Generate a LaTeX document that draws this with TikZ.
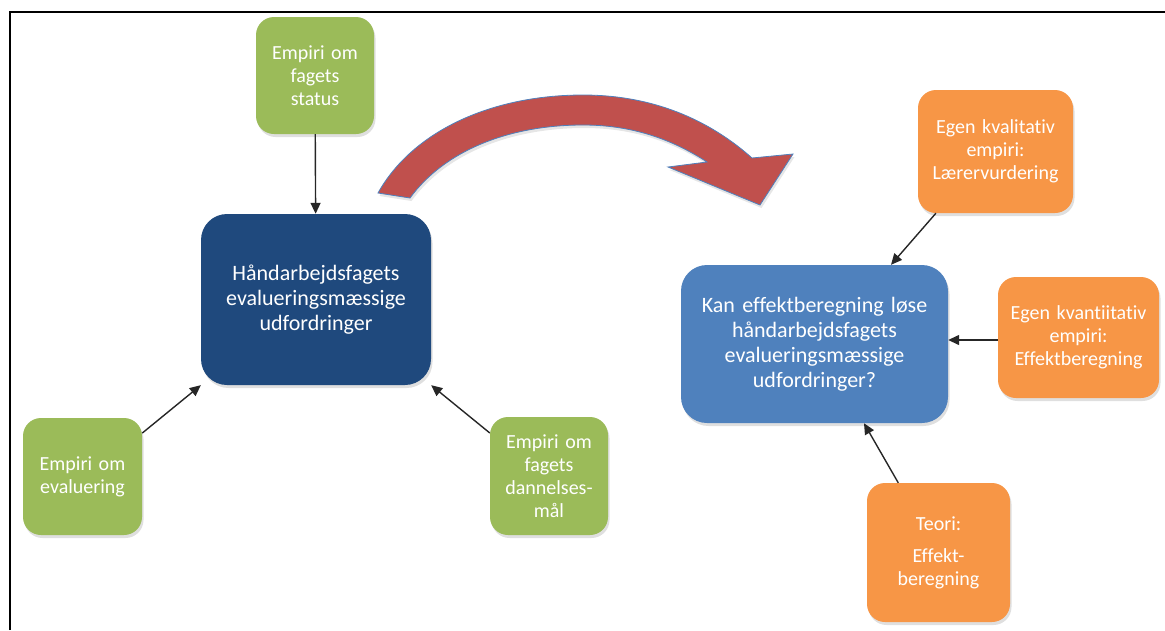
\documentclass[tikz,border=0pt]{standalone}
\usepackage{fontspec}
\setmainfont{Carlito}[Ligatures={NoCommon}]
\usetikzlibrary{shadows,arrows.meta,calc}
\definecolor{cgreen}{HTML}{9BBB59}
\definecolor{cdark}{HTML}{1F497D}
\definecolor{cblue}{HTML}{4F81BD}
\definecolor{corange}{HTML}{F79646}
\definecolor{cred}{HTML}{C0504D}
\begin{document}
\begin{tikzpicture}[x=1pt,y=-1pt,
  box/.style={rectangle, rounded corners=18pt, align=center, inner sep=0pt, text=white,
    drop shadow={shadow xshift=1.5pt, shadow yshift=-3pt, opacity=0.25}},
  smallbox/.style={box, font=\fontsize{20}{23}\selectfont},
  bigbox/.style={box, font=\fontsize{22}{25}\selectfont, rounded corners=26pt},
  arr/.style={-{Triangle[length=11pt,width=10pt]}, line width=1.4pt, black!85}]
\useasboundingbox (0,0) rectangle (1165,630);
\draw[line width=2pt] (10,630) -- (10,12) -- (1165,12);

% left group
\node[smallbox, fill=cgreen, minimum width=118pt, minimum height=117pt, text width=110pt] (gtop) at (315,75.5) {Empiri om\\fagets\\status};
\node[bigbox, fill=cdark, minimum width=230pt, minimum height=171pt, text width=215pt] (main) at (316,299.5) {Håndarbejdsfagets\\evalueringsmæssige\\udfordringer};
\node[smallbox, fill=cgreen, minimum width=119pt, minimum height=117pt, text width=110pt] (gleft) at (82.5,476.5) {Empiri om\\evaluering};
\node[smallbox, fill=cgreen, minimum width=118pt, minimum height=118pt, text width=110pt] (gright) at (549,476) {Empiri om\\fagets\\dannelses-\\mål};

% right group
\node[smallbox, fill=corange, minimum width=155pt, minimum height=123pt, text width=150pt] (kval) at (995.5,151.5) {Egen kvalitativ\\empiri:\\Lærervurdering};
\node[smallbox, fill=corange, minimum width=161pt, minimum height=121pt, text width=156pt] (kvan) at (1078.5,337.5) {Egen kvantiitativ\\empiri:\\Effektberegning};
\node[bigbox, fill=cblue, minimum width=267pt, minimum height=158pt, text width=255pt] (q) at (814.5,344) {Kan effektberegning løse\\håndarbejdsfagets\\evalueringsmæssige\\udfordringer?};
\node[smallbox, fill=corange, minimum width=143pt, minimum height=139pt, text width=135pt] (teori) at (938.5,552.5) {Teori:\\[9pt]Effekt-\\beregning};

% connectors
\draw[arr] (gtop) -- (main);
\draw[arr] (gleft.36.8) -- (main.south west);
\draw[arr] (gright.144.2) -- (main.south east);
\draw[arr] (kval.226.4) -- (q.46.3);
\draw[arr] ($(kvan.west)+(0,2.5)$) coordinate (kw) -- (kw -| q.east);
\draw[arr] (teori.120.2) -- (q.-58.4);

% big curved arrow
\draw[fill=cred, draw=cblue, line width=0.8pt,
  drop shadow={shadow xshift=1.5pt, shadow yshift=-3pt, opacity=0.2}]
  (378,193) .. controls (412,132) and (490,95) .. (583,95)
  .. controls (660,95) and (715,125) .. (752,158)
  -- (793,154) -- (760,205) -- (668,167) -- (707,162)
  .. controls (670,138) and (630,125) .. (583,125)
  .. controls (510,125) and (445,150) .. (410,198) -- cycle;
\end{tikzpicture}
\end{document}
